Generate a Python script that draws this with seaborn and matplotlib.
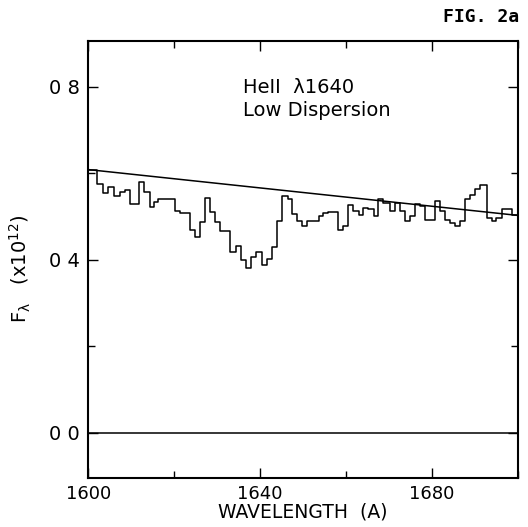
import matplotlib
matplotlib.use('Agg')
import matplotlib.pyplot as plt
import seaborn as sns
import pandas as pd
from matplotlib.ticker import MultipleLocator, FixedLocator, FixedFormatter

# Bin start wavelengths (A) and fluxes (x10^12)
wave_edges = [1600.0, 1602.0, 1603.4, 1604.7, 1605.9, 1607.3, 1608.5, 1609.8,
              1611.9, 1613.1, 1614.3, 1615.2, 1616.3, 1620.2, 1621.3, 1623.7,
              1624.9, 1626.0, 1627.2, 1628.4, 1629.5, 1630.7, 1633.0, 1634.4,
              1635.6, 1636.7, 1637.9, 1639.1, 1640.4, 1641.6, 1642.7, 1644.0,
              1645.2, 1646.4, 1647.5, 1648.5, 1649.7, 1650.9, 1652.4, 1653.6,
              1654.7, 1655.9, 1658.2, 1659.4, 1660.5, 1661.7, 1662.9, 1664.0,
              1665.2, 1666.4, 1667.5, 1668.7, 1670.2, 1671.4, 1672.6, 1673.7,
              1674.9, 1676.0, 1677.2, 1678.4, 1680.7, 1681.9, 1683.0, 1684.2,
              1685.3, 1686.5, 1687.7, 1688.8, 1690.0, 1691.2, 1692.7, 1693.9,
              1695.0, 1696.2, 1698.5]
flux = [0.608, 0.575, 0.555, 0.568, 0.546, 0.557, 0.560, 0.529,
        0.580, 0.557, 0.522, 0.532, 0.541, 0.513, 0.508, 0.469,
        0.451, 0.486, 0.543, 0.511, 0.486, 0.467, 0.418, 0.432,
        0.400, 0.381, 0.407, 0.418, 0.388, 0.402, 0.428, 0.488,
        0.548, 0.539, 0.506, 0.489, 0.477, 0.489, 0.490, 0.500,
        0.508, 0.510, 0.469, 0.477, 0.525, 0.512, 0.504, 0.520,
        0.516, 0.500, 0.539, 0.531, 0.512, 0.531, 0.512, 0.489,
        0.500, 0.529, 0.524, 0.492, 0.535, 0.512, 0.492, 0.485,
        0.477, 0.489, 0.539, 0.550, 0.562, 0.573, 0.496, 0.489,
        0.496, 0.516, 0.504]
wave_end = 1700.0

# Fitted continuum end points
cont_wave = [1600.0, 1700.0]
cont_flux = [0.608, 0.502]

ytick_vals = [0.0, 0.4, 0.8]
ytick_text = ['0 0', '0 4', '0 8']

sns.set_style('ticks')
plt.rcParams['font.family'] = ['DejaVu Sans']
plt.rcParams.update({'text.color': 'black', 'axes.labelcolor': 'black',
                     'xtick.color': 'black', 'ytick.color': 'black',
                     'axes.edgecolor': 'black'})

df = pd.DataFrame({'wave': wave_edges + [wave_end], 'flux': flux + [flux[-1]]})

fig = plt.figure(figsize=(5.28, 5.27), dpi=100)
ax = fig.add_axes([0.167, 0.093, 0.814, 0.829])

sns.lineplot(data=df, x='wave', y='flux', drawstyle='steps-post', estimator=None,
             color='black', linewidth=1.1, ax=ax)
sns.lineplot(x=cont_wave, y=cont_flux, color='black', linewidth=1.1, ax=ax)
ax.axhline(0, color='black', linewidth=1.1)

ax.set_xlim(1600, 1700)
ax.set_ylim(-0.105, 0.905)

ax.xaxis.set_major_locator(MultipleLocator(40))
ax.xaxis.set_minor_locator(MultipleLocator(20))
ax.yaxis.set_major_locator(FixedLocator(ytick_vals))
ax.yaxis.set_major_formatter(FixedFormatter(ytick_text))
ax.yaxis.set_minor_locator(MultipleLocator(0.2))

ax.tick_params(which='both', direction='in', top=True, right=True, width=1,
               labelsize=13)
ax.tick_params(axis='y', pad=6, labelsize=14)
ax.tick_params(axis='x', pad=5)
ax.tick_params(which='major', length=7)
ax.tick_params(which='minor', length=5)
for s in ax.spines.values():
    s.set_linewidth(1.5)

ax.set_xlabel('WAVELENGTH  (A)', fontsize=13.5, labelpad=0)
ax.set_ylabel(r'F$_\mathrm{\lambda}$   (x10$^{12}$)', fontsize=14)
ax.yaxis.set_label_coords(-0.128, 0.48)

ax.text(1636, 0.797, 'HeII  λ1640', fontsize=14, va='center')
ax.text(1636, 0.745, 'Low Dispersion', fontsize=14, va='center')
fig.text(0.983, 0.968, 'FIG. 2a', fontsize=13, fontweight='bold',
         family='DejaVu Sans Mono', ha='right', va='center')

fig.savefig('out.png', dpi=100)
